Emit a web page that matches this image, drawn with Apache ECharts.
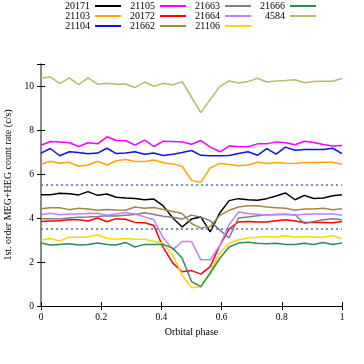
<!DOCTYPE html>
<html>
<head>
<meta charset="utf-8">
<script src="https://cdn.jsdelivr.net/npm/echarts@6/dist/echarts.min.js"></script>
<style>
  html, body { margin: 0; padding: 0; background: #fff; }
  #chart { width: 364px; height: 364px; }
</style>
</head>
<body>
<div id="chart"></div>
<script>
// orbital phase bins
const phase = [0, 0.031, 0.062, 0.094, 0.125, 0.156, 0.188, 0.219, 0.25, 0.281, 0.312,
  0.344, 0.375, 0.406, 0.438, 0.469, 0.5, 0.531, 0.562, 0.594, 0.625, 0.656, 0.688,
  0.719, 0.75, 0.781, 0.812, 0.844, 0.875, 0.906, 0.938, 0.969, 1]

// count rates per observation (c/s)
const obs20171 = [5.06, 5.06, 5.12, 5.1, 5.05, 5.2, 5.03, 5.09, 4.94, 4.91, 4.89, 4.83, 4.86, 4.55, 4.0, 3.59, 3.95, 4.05, 3.37, 4.23, 4.79, 4.88, 4.83, 4.81, 4.88, 5.0, 5.14, 4.83, 5.03, 4.89, 4.91, 5.01, 5.06]
const obs21103 = [6.44, 6.58, 6.49, 6.53, 6.35, 6.41, 6.58, 6.41, 6.6, 6.66, 6.57, 6.57, 6.64, 6.51, 6.46, 6.34, 5.71, 5.62, 6.28, 6.48, 6.43, 6.38, 6.41, 6.53, 6.48, 6.52, 6.49, 6.48, 6.52, 6.52, 6.53, 6.53, 6.44]
const obs21104 = [6.95, 7.16, 6.83, 7.01, 6.98, 6.92, 6.95, 7.17, 6.93, 6.95, 7.01, 6.9, 6.95, 6.84, 6.9, 6.98, 7.07, 6.85, 6.83, 6.83, 6.84, 6.93, 7.01, 6.85, 7.15, 6.9, 7.22, 7.08, 7.11, 7.11, 7.11, 7.17, 6.93]
const obs21105 = [7.31, 7.48, 7.46, 7.42, 7.25, 7.42, 7.37, 7.69, 7.52, 7.51, 7.31, 7.54, 7.25, 7.49, 7.48, 7.45, 7.35, 7.52, 7.22, 7.01, 7.27, 7.25, 7.24, 7.37, 7.37, 7.46, 7.42, 7.33, 7.49, 7.43, 7.34, 7.27, 7.3]
const obs20172 = [3.84, 3.86, 3.88, 3.92, 3.92, 3.86, 4.0, 3.83, 3.97, 3.94, 3.8, 3.78, 3.66, 2.65, 1.95, 1.56, 1.61, 1.45, 1.79, 2.75, 3.5, 3.82, 3.84, 3.82, 3.82, 3.88, 3.92, 3.86, 3.8, 3.8, 3.8, 3.78, 3.84]
const obs21662 = [4.42, 4.47, 4.47, 4.38, 4.44, 4.41, 4.35, 4.39, 4.36, 4.35, 4.5, 4.44, 4.48, 4.39, 4.3, 4.2, 3.75, 3.54, 3.6, 4.12, 4.35, 4.5, 4.56, 4.56, 4.5, 4.47, 4.44, 4.35, 4.41, 4.41, 4.44, 4.38, 4.42]
const obs21663 = [3.97, 3.97, 3.95, 4.0, 4.03, 4.04, 4.07, 4.1, 4.09, 4.13, 4.16, 4.24, 4.16, 4.08, 4.03, 3.95, 4.13, 4.04, 3.88, 3.45, 3.1, 4.0, 4.05, 4.1, 4.15, 4.15, 4.17, 4.15, 3.75, 3.84, 3.92, 3.97, 3.92]
const obs21664 = [4.15, 4.22, 4.15, 4.18, 4.18, 4.2, 4.22, 4.13, 4.18, 4.25, 4.18, 4.05, 3.92, 3.1, 2.55, 2.93, 2.93, 2.1, 2.1, 2.75, 3.7, 4.27, 4.2, 4.17, 4.13, 4.17, 4.17, 4.13, 4.17, 4.18, 4.18, 4.18, 4.13]
const obs21106 = [3.0, 3.07, 2.96, 3.13, 3.13, 3.13, 3.24, 3.07, 3.03, 3.07, 3.03, 3.03, 2.93, 2.85, 2.3, 1.4, 0.83, 0.88, 1.54, 2.4, 2.86, 3.0, 3.09, 3.13, 3.16, 3.13, 3.19, 3.13, 3.16, 3.12, 3.13, 3.2, 3.05]
const obs21666 = [2.86, 2.77, 2.8, 2.83, 2.77, 2.8, 2.86, 2.8, 2.77, 2.89, 2.68, 2.8, 2.8, 2.8, 2.63, 2.17, 1.11, 0.88, 1.49, 2.17, 2.68, 2.86, 2.9, 2.85, 2.83, 2.85, 2.8, 2.8, 2.85, 2.8, 2.89, 2.8, 2.86]
const obs4584 = [10.35, 10.41, 10.11, 10.37, 10.06, 10.37, 10.08, 10.12, 10.08, 10.09, 9.93, 10.18, 9.99, 10.12, 10.05, 10.2, 9.5, 8.79, 9.38, 9.97, 10.23, 10.14, 10.2, 10.35, 10.18, 10.23, 10.25, 10.28, 10.15, 10.2, 10.22, 10.22, 10.34]

// reference levels (dotted)
const refLevels = [5.5, 3.5]

const xTicks = [0, 0.2, 0.4, 0.6, 0.8, 1]
const yTicks = [0, 2, 4, 6, 8, 10]

const seriesDefs = [
  { name: '20171', data: obs20171, color: '#000000' },
  { name: '21103', data: obs21103, color: '#ffa500' },
  { name: '21104', data: obs21104, color: '#1010ee' },
  { name: '21105', data: obs21105, color: '#ff00ff' },
  { name: '20172', data: obs20172, color: '#ff0000' },
  { name: '21662', data: obs21662, color: '#a0883e' },
  { name: '21663', data: obs21663, color: '#7f7f7f' },
  { name: '21664', data: obs21664, color: '#c080ff' },
  { name: '21106', data: obs21106, color: '#ffd700' },
  { name: '21666', data: obs21666, color: '#2e8b57' },
  { name: '4584', data: obs4584, color: '#bdb76b' }
]

const FONT = 'Liberation Serif'

const chart = echarts.init(document.getElementById('chart'))

const legendCol = (names, left) => ({
  data: names,
  orient: 'vertical',
  left: left,
  top: 1,
  padding: 0,
  itemGap: 0,
  align: 'right',
  icon: 'rect',
  itemWidth: 26,
  itemHeight: 2,
  selectedMode: false,
  textStyle: {
    fontFamily: FONT, fontSize: 10, color: '#000',
    width: 26, align: 'right', lineHeight: 10
  }
})

const axisCommon = {
  axisLine: { show: true, lineStyle: { color: '#000', width: 1 } },
  axisTick: { inside: true, length: 4, lineStyle: { color: '#000' } },
  splitLine: { show: false }
}

const option = {
  animation: false,
  backgroundColor: '#fff',
  grid: { left: 41, right: 22, top: 64, bottom: 58, containLabel: false, outerBoundsMode: 'none' },
  legend: [
    legendCol(['20171', '21103', '21104'], 64),
    legendCol(['21105', '20172', '21662'], 129),
    legendCol(['21663', '21664', '21106'], 194),
    legendCol(['21666', '4584'], 259)
  ],
  xAxis: [
    Object.assign({}, axisCommon, {
      type: 'value', min: 0, max: 1, interval: 0.2, position: 'bottom',
      name: 'Orbital phase', nameLocation: 'middle', nameGap: 21,
      nameTextStyle: { fontFamily: FONT, fontSize: 10, color: '#000' },
      axisLabel: {
        fontFamily: FONT, fontSize: 9.5, color: '#000', margin: 6,
        formatter: v => xTicks.includes(+v.toFixed(1)) ? String(+v.toFixed(1)) : ''
      }
    }),
    Object.assign({}, axisCommon, {
      type: 'value', min: 0, max: 1, interval: 0.2, position: 'top',
      axisLabel: { show: false }
    })
  ],
  yAxis: [
    Object.assign({}, axisCommon, {
      type: 'value', min: 0, max: 11, interval: 2, position: 'left',
      axisLine: { show: true, lineStyle: { color: '#808080', width: 1.5 } },
      name: '1st. order MEG+HEG count rate (c/s)', nameLocation: 'middle', nameGap: 24,
      nameTextStyle: { fontFamily: FONT, fontSize: 10, color: '#000' },
      axisLabel: {
        fontFamily: FONT, fontSize: 9.5, color: '#000', margin: 7,
        formatter: v => yTicks.includes(v) ? String(v) : ''
      }
    }),
    Object.assign({}, axisCommon, {
      type: 'value', min: 0, max: 11, interval: 2, position: 'right',
      axisLine: { show: true, lineStyle: { color: '#808080', width: 1.5 } },
      axisLabel: { show: false }
    })
  ],
  series: seriesDefs.map((s, i) => ({
    name: s.name,
    type: 'line',
    data: phase.map((p, k) => [p, s.data[k]]),
    color: s.color,
    showSymbol: false,
    symbol: 'none',
    lineStyle: { width: 1.5, color: s.color },
    z: 3,
    markLine: i === 0 ? {
      silent: true,
      symbol: 'none',
      label: { show: false },
      lineStyle: { type: [2, 3], color: '#4a6fe0', width: 1.5 },
      data: refLevels.map(v => ({ yAxis: v }))
    } : undefined
  }))
}

chart.setOption(option)
</script>
</body>
</html>
